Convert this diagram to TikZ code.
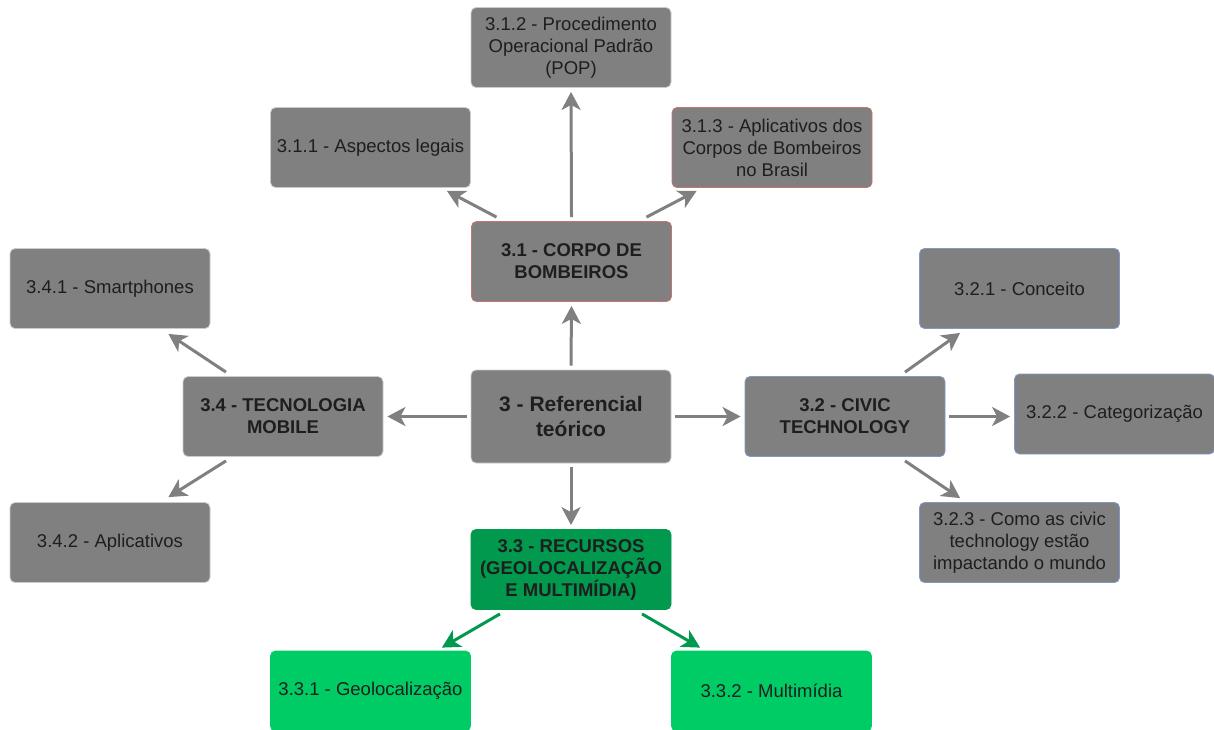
\documentclass[tikz,border=0pt]{standalone}
\usepackage{fontspec}
\setmainfont{Liberation Sans}
\usepackage{tikz}
\usetikzlibrary{arrows.meta, positioning, shapes}
\definecolor{boxgray}{HTML}{808080}
\definecolor{linegray}{HTML}{CCCCCC}
\definecolor{redline}{HTML}{C87470}
\definecolor{blueline}{HTML}{7C9BC7}
\definecolor{darkgreen}{HTML}{00994D}
\definecolor{lightgreen}{HTML}{00CC66}
\definecolor{txt}{HTML}{1E1E1E}
\tikzstyle{box} = [draw=linegray, line width=0.8pt, fill=boxgray, rounded corners=5pt, minimum width=200pt, minimum height=80pt, align=center, text=txt, font=\fontsize{18.5}{22}\selectfont]
\tikzstyle{boldbox} = [box, font=\fontsize{18.5}{22}\selectfont\bfseries]
\tikzstyle{arrow} = [line width=3pt, draw=boxgray, -{Stealth[length=18pt, width=19pt, inset=5pt]}]
\tikzstyle{greenarrow} = [arrow, draw=darkgreen]

\begin{document}
\begin{tikzpicture}[x=1pt, y=-1pt]
  \useasboundingbox (0,0) rectangle (1214,729);
  \clip (0,0) rectangle (1214,729);
  % Nodes
  \node (ref) [box, minimum height=93pt, font=\fontsize{21}{25}\selectfont\bfseries] at (571,416.5) {3 - Referencial\\teórico};
  \node (c31) [boldbox, draw=redline] at (571.5,261.5) {3.1 - CORPO DE\\BOMBEIROS};
  \node (c311) [box] at (370.5,147.5) {3.1.1 - Aspectos legais};
  \node (c312) [box] at (571,47.5) {3.1.2 - Procedimento\\Operacional Padrão\\(POP)};
  \node (c313) [box, draw=redline] at (772,147.5) {3.1.3 - Aplicativos dos\\Corpos de Bombeiros\\no Brasil};
  \node (c32) [boldbox, draw=blueline] at (845,416.5) {3.2 - CIVIC\\TECHNOLOGY};
  \node (c321) [box, draw=blueline] at (1019.5,288.5) {3.2.1 - Conceito};
  \node (c322) [box, draw=blueline] at (1114.5,414) {3.2.2 - Categorização};
  \node (c323) [box, draw=blueline] at (1019.5,542.5) {3.2.3 - Como as civic\\technology estão\\impactando o mundo};
  \node (c33) [boldbox, fill=darkgreen, draw=darkgreen] at (571,569.5) {3.3 - RECURSOS\\(GEOLOCALIZAÇÃO\\E MULTIMÍDIA)};
  \node (c331) [box, fill=lightgreen, draw=lightgreen] at (370.5,691) {3.3.1 - Geolocalização};
  \node (c332) [box, fill=lightgreen, draw=lightgreen] at (771.5,691) {3.3.2 - Multimídia};
  \node (c34) [boldbox] at (283,416.5) {3.4 - TECNOLOGIA\\MOBILE};
  \node (c341) [box] at (110,288.5) {3.4.1 - Smartphones};
  \node (c342) [box] at (110,542.5) {3.4.2 - Aplicativos};

  % Arrows
  \draw[arrow] ([yshift=4pt]ref.north) -- ([yshift=-4pt]c31.south);
  \draw[arrow] ([yshift=4pt]c31.north) -- ([yshift=-4pt]c312.south);
  \draw[arrow] ([xshift=-75pt, yshift=4pt]c31.north) -- ([xshift=-24pt, yshift=-3pt]c311.south east);
  \draw[arrow] ([xshift=75pt, yshift=4pt]c31.north) -- ([xshift=25pt, yshift=-3pt]c313.south west);
  \draw[arrow] ([xshift=-4pt]ref.west) -- ([xshift=4pt]c34.east);
  \draw[arrow] ([xshift=-57pt, yshift=4pt]c34.north) -- ([xshift=-42pt, yshift=-5pt]c341.south east);
  \draw[arrow] ([xshift=-57pt, yshift=-4pt]c34.south) -- ([xshift=-42pt, yshift=5pt]c342.north east);
  \draw[arrow] ([xshift=4pt]ref.east) -- ([xshift=-4pt]c32.west);
  \draw[arrow] ([xshift=60pt, yshift=4pt]c32.north) -- ([xshift=41pt, yshift=-4pt]c321.south west);
  \draw[arrow] ([xshift=4pt]c32.east) -- ([xshift=-4pt]c322.west |- c32.east);
  \draw[arrow] ([xshift=60pt, yshift=-4pt]c32.south) -- ([xshift=41pt, yshift=4pt]c323.north west);
  \draw[arrow] ([yshift=-4pt]ref.south) -- ([yshift=4pt]c33.north);
  \draw[greenarrow] ([xshift=-71pt, yshift=-4pt]c33.south) -- ([xshift=-29pt, yshift=3pt]c331.north east);
  \draw[greenarrow] ([xshift=71pt, yshift=-4pt]c33.south) -- ([xshift=29pt, yshift=3pt]c332.north west);
\end{tikzpicture}
\end{document}
